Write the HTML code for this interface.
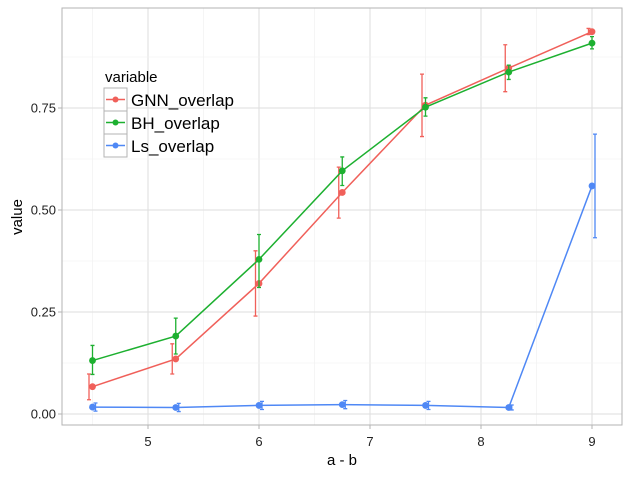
<!DOCTYPE html>
<html><head><meta charset="utf-8"><style>
body{margin:0;background:#fff;font-family:"Liberation Sans",sans-serif}
</style></head><body>
<svg width="631" height="476" xmlns="http://www.w3.org/2000/svg" font-family="Liberation Sans, sans-serif">
<g id="grid"></g>
<rect x="62" y="8" width="560" height="417" fill="none" stroke="#b3b3b3" stroke-width="1"/>
<g id="series"></g>
<g id="axes"></g>
<text x="342" y="465" font-size="15" text-anchor="middle">a - b</text>
<text transform="translate(22,217) rotate(-90)" font-size="15" text-anchor="middle">value</text>
<g>
<text x="105" y="82" font-size="15">variable</text>
<g><rect x="104" y="88" width="23" height="23" fill="#fff" stroke="#b3b3b3"/><line x1="106" y1="99.5" x2="125" y2="99.5" stroke="#F0605A" stroke-width="1.5"/><circle cx="115.5" cy="99.5" r="3" fill="#F0605A"/><text x="131" y="106" font-size="17">GNN_overlap</text></g>
<g><rect x="104" y="111" width="23" height="23" fill="#fff" stroke="#b3b3b3"/><line x1="106" y1="122.5" x2="125" y2="122.5" stroke="#1DB030" stroke-width="1.5"/><circle cx="115.5" cy="122.5" r="3" fill="#1DB030"/><text x="131" y="129" font-size="17">BH_overlap</text></g>
<g><rect x="104" y="134" width="23" height="23" fill="#fff" stroke="#b3b3b3"/><line x1="106" y1="145.5" x2="125" y2="145.5" stroke="#4F88F5" stroke-width="1.5"/><circle cx="115.5" cy="145.5" r="3" fill="#4F88F5"/><text x="131" y="152" font-size="17">Ls_overlap</text></g>
</g>
</svg>
<script>
const xs=[4.5,5.25,6,6.75,7.5,8.25,9];
const gnn=[0.067,0.135,0.32,0.543,0.757,0.848,0.937];
const gnnLo=[0.035,0.098,0.24,0.48,0.68,0.79,0.93];
const gnnHi=[0.098,0.172,0.40,0.605,0.833,0.905,0.945];
const bh=[0.131,0.191,0.379,0.596,0.752,0.838,0.909];
const bhLo=[0.097,0.147,0.31,0.56,0.73,0.82,0.895];
const bhHi=[0.168,0.235,0.44,0.63,0.775,0.855,0.925];
const ls=[0.017,0.016,0.021,0.023,0.021,0.016,0.559];
const lsLo=[0.007,0.006,0.011,0.013,0.011,0.010,0.432];
const lsHi=[0.027,0.026,0.031,0.033,0.031,0.022,0.686];
const xTicks=[5,6,7,8,9];
const yTicks=[0,0.25,0.5,0.75];
const yLabels=["0.00","0.25","0.50","0.75"];
const X=v=>148+(v-5)*111, Y=v=>414-v*408;
const NS="http://www.w3.org/2000/svg";
function mk(t,a,p){const e=document.createElementNS(NS,t);for(const k in a)e.setAttribute(k,a[k]);p.appendChild(e);return e;}
const grid=document.getElementById('grid'),axes=document.getElementById('axes'),ser=document.getElementById('series');
for(let i=0;i<xTicks.length;i++){const x=X(xTicks[i]);
 const l=mk('line',{x1:x,x2:x,y1:8,y2:425,stroke:'#dedede','stroke-width':1},grid);
 
 const m=mk('line',{x1:x-55.5,x2:x-55.5,y1:8,y2:425,stroke:'#efefef','stroke-width':0.6},grid);
 
 const tk=mk('line',{x1:x,x2:x,y1:425,y2:429,stroke:'#b3b3b3'},axes);
 
 const t=mk('text',{x:x,y:446,'font-size':13,'text-anchor':'middle',fill:'#222'},axes);t.textContent=xTicks[i];
 }
for(let i=0;i<yTicks.length;i++){const y=Y(yTicks[i]);
 const l=mk('line',{x1:62,x2:622,y1:y,y2:y,stroke:'#dedede','stroke-width':1},grid);
 
 const m=mk('line',{x1:62,x2:622,y1:y-51,y2:y-51,stroke:'#efefef','stroke-width':0.6},grid);
 
 const tk=mk('line',{x1:58,x2:62,y1:y,y2:y,stroke:'#b3b3b3'},axes);
 
 const t=mk('text',{x:56,y:y+4.5,'font-size':13,'text-anchor':'end',fill:'#222'},axes);t.textContent=yLabels[i];
 }
function series(v,lo,hi,col,off,eoff,name){
 const g=mk('g',{},ser);
 const p=mk('polyline',{points:xs.map((x,i)=>(X(x)+off)+','+Y(v[i])).join(' '),fill:'none',stroke:col,'stroke-width':1.5},g);
 
 xs.forEach((x,i)=>{const cx=X(x)+off,ex=X(x)+eoff;
  const e=mk('path',{d:`M${ex-2},${Y(hi[i])}H${ex+2}M${ex},${Y(hi[i])}V${Y(lo[i])}M${ex-2},${Y(lo[i])}H${ex+2}`,stroke:col,'stroke-width':1.3,fill:'none'},g);
  
  const c=mk('circle',{cx:cx,cy:Y(v[i]),r:3.4,fill:col},g);
  });
}
series(gnn,gnnLo,gnnHi,'#F0605A',0,-3.5,'gnn');
series(bh,bhLo,bhHi,'#1DB030',0,0,'bh');
series(ls,lsLo,lsHi,'#4F88F5',0,3,'ls');
</script>
</body></html>
